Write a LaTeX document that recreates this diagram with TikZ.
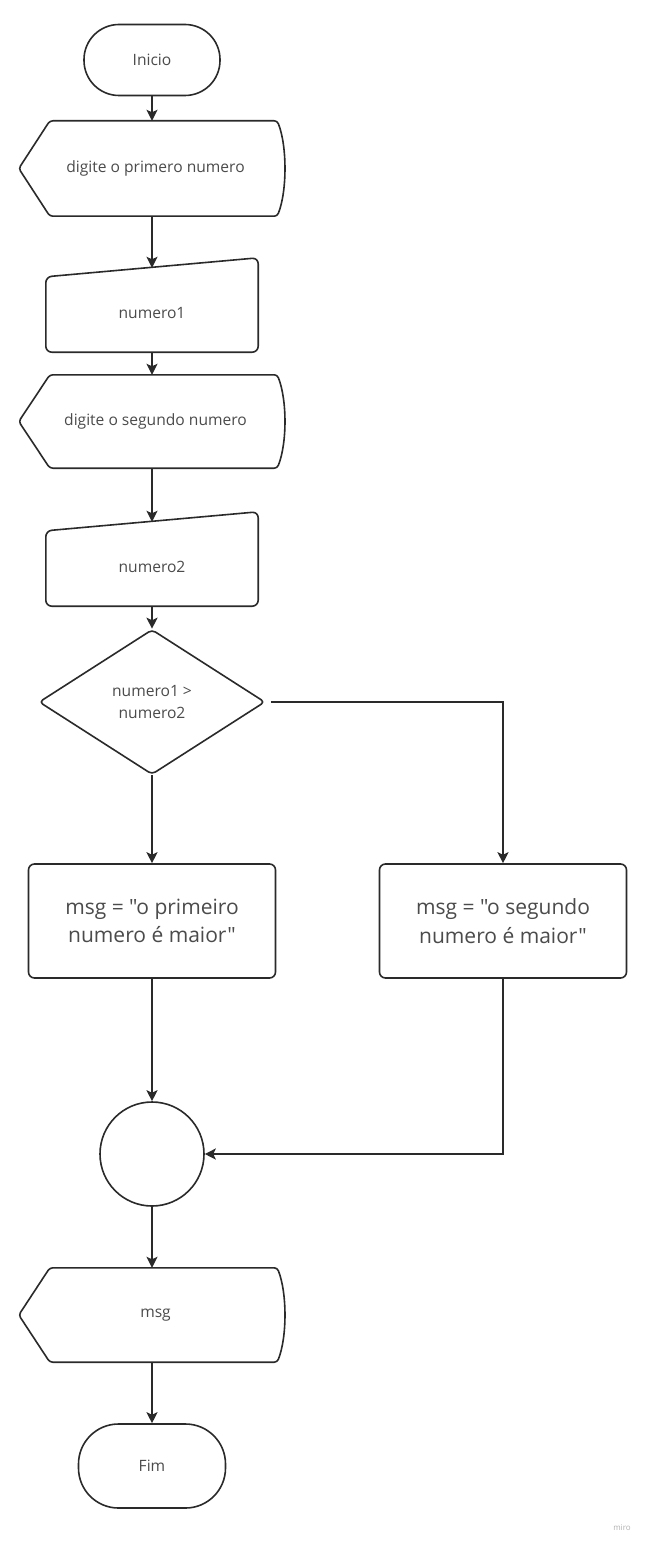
\documentclass[tikz,border=0pt]{standalone}
\usepackage{fontspec}
\setmainfont{Open Sans}[Ligatures=TeXOff]
\usetikzlibrary{shapes.geometric,arrows.meta,calc}
\definecolor{linec}{RGB}{42,42,42}
\definecolor{textc}{RGB}{75,75,75}
\tikzset{
  base/.style={draw=none, text=textc, inner sep=0pt, align=center, font=\fontsize{15.6}{22}\selectfont},
  shapeline/.style={draw=linec, line width=1.6pt, line join=round},
  term/.style={base, shapeline, rounded corners=#1},
  procbox/.style={base, shapeline, rounded corners=6pt, minimum width=247pt, minimum height=114pt, font=\fontsize{21}{28.5}\selectfont},
  dispbox/.style={base, minimum width=266pt},
  manbox/.style={base, minimum width=212pt, minimum height=84pt},
  decision/.style={base, shapeline, diamond, minimum width=226pt, minimum height=145pt, rounded corners=4pt},
  joint/.style={base, shapeline, circle, minimum size=104pt},
  conn/.style={draw=linec, line width=1.6pt, -{Stealth[length=11pt,width=11pt,inset=2.5pt]}},
}
\newcommand\dispoutline[1]{%
  \draw[shapeline, rounded corners=3pt] ($(#1.north west)+(31,0)$) -- ($(#1.north east)+(-8,0)$)
    .. controls ($(#1.north east)+(2,25)$) and ($(#1.south east)+(2,-25)$) .. ($(#1.south east)+(-8,0)$)
    -- ($(#1.south west)+(31,0)$) -- (#1.west) -- cycle;}
\newcommand\manoutline[1]{%
  \draw[shapeline, rounded corners=6pt] ($(#1.north west)+(0,9)$) -- ($(#1.north east)+(0,-10)$)
    -- (#1.south east) -- (#1.south west) -- cycle;}
\begin{document}
\begin{tikzpicture}[x=1pt,y=-1pt]
\fill[white] (0,0) rectangle (646,1546);
\useasboundingbox (0,0) rectangle (646,1546);

\node[term=35pt, minimum width=136pt, minimum height=71pt] (ini) at (152,60) {Inicio};

\node[dispbox, minimum height=95pt] (d1) at (152,168.5) {\hspace*{7pt}digite o primero numero};
\dispoutline{d1}

\node[manbox] (m1) at (152,310) {\raisebox{-3pt}[\height][\depth]{numero1}};
\manoutline{m1}

\node[dispbox, minimum height=93pt] (d2) at (152,421.5) {\hspace*{7pt}digite o segundo numero};
\dispoutline{d2}

\node[manbox] (m2) at (152,564) {\raisebox{-3pt}[\height][\depth]{numero2}};
\manoutline{m2}

\node[decision] (dec) at (152,702) {numero1 >\\numero2};

\node[procbox] (b1) at (152,921) {msg = "o primeiro\\numero é maior"};
\node[procbox] (b2) at (503,921) {msg = "o segundo\\numero é maior"};

\node[joint] (jn) at (152,1154) {};

\node[dispbox, minimum height=94pt] (d3) at (152,1315) {\hspace*{7pt}msg};
\dispoutline{d3}

\node[term=40pt, minimum width=147pt, minimum height=84pt] (fim) at (152,1466) {Fim};

\node[base, text=black!30, font=\fontsize{8}{9}\selectfont] (miro) at (622,1528) {miro};

\draw[conn] (ini.south) -- (d1.north);
\draw[conn] (d1.south) -- (m1.north);
\draw[conn] (m1.south) -- (d2.north);
\draw[conn] (d2.south) -- (m2.north);
\draw[conn] (m2.south) -- (dec.north);
\draw[conn] (dec.south) -- (b1.north);
\draw[conn] ($(dec.east)+(5,0)$) -| (b2.north);
\draw[conn] (b1.south) -- (jn.north);
\draw[conn] (b2.south) |- (jn.east);
\draw[conn] (jn.south) -- (d3.north);
\draw[conn] (d3.south) -- (fim.north);
\end{tikzpicture}
\end{document}
